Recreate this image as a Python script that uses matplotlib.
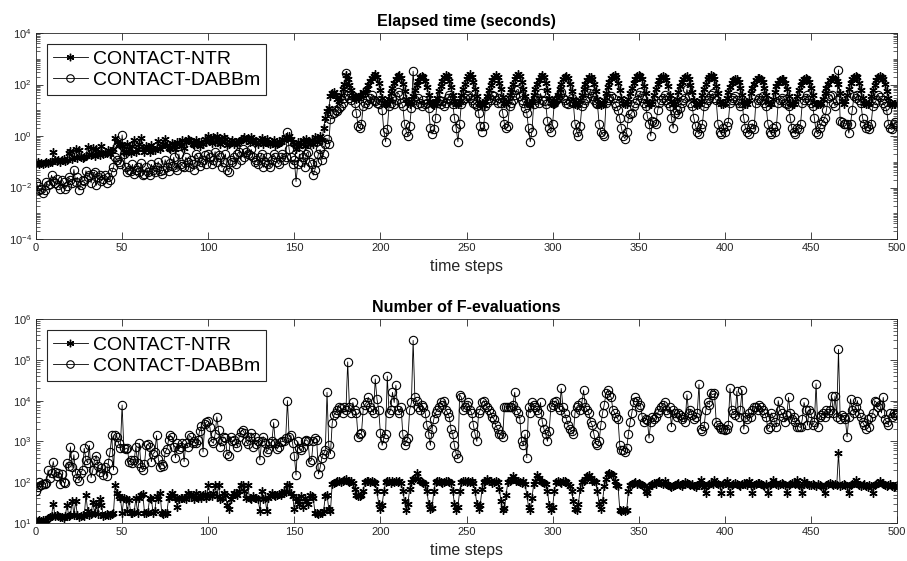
import numpy as np
import matplotlib
matplotlib.use("Agg")
import matplotlib.pyplot as plt
from matplotlib.ticker import LogLocator, NullFormatter, FixedLocator

plt.rcParams['font.family'] = ['Liberation Sans', 'DejaVu Sans']
plt.rcParams['mathtext.fontset'] = 'custom'
plt.rcParams['mathtext.rm'] = 'Liberation Sans'

# Elapsed time per time step (seconds)
time_ntr = [
    0.09, 0.10, 0.08, 0.09, 0.08, 0.09, 0.10, 0.09, 0.10, 0.10,
    0.24, 0.12, 0.11, 0.12, 0.10, 0.12, 0.13, 0.11, 0.12, 0.22,
    0.26, 0.13, 0.15, 0.30, 0.14, 0.28, 0.15, 0.14, 0.16, 0.17,
    0.38, 0.20, 0.18, 0.35, 0.17, 0.30, 0.22, 0.18, 0.40, 0.20,
    0.21, 0.22, 0.28, 0.20, 0.26, 0.32, 0.85, 0.60, 0.50, 0.45,
    0.40, 0.25, 0.22, 0.50, 0.30, 0.22, 0.40, 0.70, 0.25, 0.30,
    0.50, 0.85, 0.30, 0.25, 0.40, 0.35, 0.25, 0.45, 0.30, 0.28,
    0.35, 0.65, 0.30, 0.40, 0.50, 0.75, 0.45, 0.35, 0.30, 0.55,
    0.45, 0.30, 0.60, 0.50, 0.40, 0.70, 0.35, 0.60, 0.80, 0.70,
    0.60, 0.50, 0.45, 0.70, 0.55, 0.40, 0.60, 0.50, 0.75, 0.60,
    1.0, 0.70, 0.55, 0.90, 0.60, 1.0, 0.80, 0.50, 0.65, 0.90,
    0.80, 0.45, 0.50, 0.60, 0.70, 0.50, 0.60, 0.50, 0.65, 0.70,
    0.80, 0.90, 0.70, 0.85, 0.60, 0.90, 0.80, 0.55, 0.60, 0.50,
    0.70, 0.85, 0.50, 0.60, 0.75, 0.55, 0.50, 0.60, 0.70, 0.45,
    0.50, 0.55, 0.60, 0.80, 0.70, 0.90, 0.85, 1.0, 0.80, 0.60,
    0.50, 0.30, 0.60, 0.40, 0.50, 0.70, 0.40, 0.80, 0.60, 0.50,
    0.70, 0.50, 0.90, 0.60, 0.80, 1.0, 0.70, 2.0, 5.0, 9.0,
    12, 35, 45, 50, 40, 28, 22, 40, 65, 110,
    240, 170, 100, 60, 40, 32, 28, 30, 35, 40,
    50, 45, 70, 100, 140, 180, 220, 250, 200, 120,
    60, 30, 20, 17, 19, 28, 45, 75, 120, 170,
    210, 230, 180, 110, 55, 28, 19, 17, 22, 35,
    60, 95, 140, 190, 220, 200, 140, 80, 40, 22,
    18, 16, 20, 30, 55, 90, 140, 190, 240, 210,
    140, 80, 40, 22, 17, 18, 24, 40, 70, 110,
    160, 210, 250, 200, 130, 70, 35, 20, 17, 18,
    16, 22, 35, 60, 100, 150, 200, 240, 190, 120,
    65, 32, 20, 17, 22, 40, 70, 110, 160, 210,
    260, 210, 130, 70, 35, 20, 17, 16, 22, 38,
    65, 105, 150, 200, 230, 190, 120, 60, 30, 19,
    17, 18, 25, 40, 70, 110, 160, 190, 210, 180,
    110, 55, 28, 18, 16, 17, 25, 40, 70, 110,
    150, 190, 200, 170, 110, 55, 28, 18, 16, 18,
    26, 45, 80, 130, 180, 220, 240, 200, 120, 60,
    30, 19, 17, 18, 28, 45, 75, 120, 170, 210,
    230, 220, 160, 90, 45, 24, 18, 17, 22, 38,
    65, 105, 150, 190, 210, 200, 150, 85, 40, 22,
    17, 18, 28, 50, 85, 130, 170, 200, 210, 170,
    100, 50, 26, 18, 16, 17, 24, 40, 70, 110,
    160, 200, 230, 220, 160, 90, 45, 24, 18, 17,
    19, 30, 50, 80, 120, 150, 170, 165, 130, 75,
    38, 21, 17, 18, 26, 45, 75, 110, 150, 175,
    180, 170, 130, 75, 38, 21, 17, 18, 28, 50,
    85, 120, 150, 165, 160, 120, 70, 35, 20, 17,
    18, 22, 35, 60, 100, 140, 170, 180, 170, 130,
    75, 38, 21, 17, 18, 17, 19, 28, 45, 75,
    110, 150, 175, 180, 170, 140, 110, 45, 22, 17,
    22, 40, 70, 115, 160, 200, 220, 190, 120, 60,
    30, 19, 17, 18, 20, 35, 60, 100, 150, 190,
    210, 200, 170, 110, 55, 30, 20, 17, 18, 17,
    19,
]

time_dabbm = [
    0.017, 0.011, 0.008, 0.009, 0.006, 0.008, 0.016, 0.012, 0.014, 0.030,
    0.018, 0.015, 0.022, 0.012, 0.009, 0.020, 0.016, 0.009, 0.011, 0.025,
    0.020, 0.015, 0.050, 0.017, 0.025, 0.008, 0.012, 0.020, 0.018, 0.045,
    0.025, 0.030, 0.015, 0.035, 0.040, 0.012, 0.025, 0.030, 0.018, 0.022,
    0.030, 0.015, 0.025, 0.020, 0.040, 0.060, 0.150, 0.120, 0.100, 0.080,
    1.1, 0.200, 0.060, 0.040, 0.050, 0.045, 0.080, 0.035, 0.050, 0.060,
    0.040, 0.090, 0.030, 0.035, 0.060, 0.040, 0.030, 0.080, 0.050, 0.040,
    0.060, 0.100, 0.045, 0.035, 0.050, 0.120, 0.060, 0.045, 0.090, 0.070,
    0.150, 0.060, 0.050, 0.200, 0.080, 0.070, 0.060, 0.150, 0.100, 0.060,
    0.120, 0.080, 0.050, 0.200, 0.150, 0.070, 0.100, 0.120, 0.180, 0.080,
    0.200, 0.150, 0.080, 0.120, 0.250, 0.100, 0.180, 0.150, 0.060, 0.100,
    0.200, 0.050, 0.040, 0.120, 0.100, 0.150, 0.080, 0.200, 0.250, 0.120,
    0.300, 0.150, 0.250, 0.200, 0.180, 0.300, 0.150, 0.100, 0.120, 0.080,
    0.150, 0.200, 0.060, 0.100, 0.150, 0.080, 0.060, 0.120, 0.200, 0.150,
    0.100, 0.080, 0.150, 0.200, 0.120, 0.150, 1.4, 0.300, 0.150, 0.080,
    0.120, 0.017, 0.080, 0.200, 0.100, 0.150, 0.060, 0.200, 0.250, 0.100,
    0.080, 0.030, 0.050, 0.100, 0.200, 0.300, 0.120, 0.200, 0.500, 0.800,
    0.500, 4.5, 7.0, 8.0, 10, 9.0, 12, 15, 20, 30,
    280, 40, 30, 25, 35, 20, 8.0, 2.5, 2.0, 3.0,
    15, 20, 25, 18, 30, 40, 25, 22, 20, 18,
    25, 10, 1.5, 0.6, 1.8, 15, 20, 30, 18, 25,
    50, 40, 20, 15, 3.0, 1.5, 1.0, 2.5, 12, 330,
    25, 18, 30, 20, 15, 25, 18, 20, 12, 2.0,
    1.2, 1.8, 5.0, 20, 25, 18, 22, 15, 20, 30,
    40, 25, 18, 5.0, 2.0, 0.6, 3.0, 18, 25, 30,
    35, 40, 30, 25, 20, 18, 15, 8.0, 2.5, 1.5,
    2.5, 15, 20, 30, 25, 40, 35, 25, 20, 30,
    20, 8.0, 3.0, 2.0, 2.5, 15, 20, 25, 40, 60,
    65, 35, 25, 20, 12, 8.0, 2.0, 0.6, 1.5, 18,
    25, 30, 20, 45, 25, 22, 18, 4.0, 2.0, 1.5,
    3.0, 20, 25, 30, 40, 50, 30, 25, 20, 18,
    22, 30, 20, 3.0, 1.5, 1.0, 2.5, 15, 20, 25,
    30, 45, 60, 35, 25, 20, 18, 3.0, 1.5, 1.2,
    1.0, 20, 25, 30, 35, 30, 20, 15, 10, 5.0,
    2.0, 1.0, 0.8, 1.5, 5.0, 7.0, 8.0, 15, 20, 25,
    40, 50, 30, 20, 15, 6.0, 3.0, 1.0, 4.0, 3.5,
    3.0, 10, 20, 25, 30, 40, 25, 20, 15, 5.0,
    2.0, 8.0, 10, 7.0, 12, 20, 25, 30, 65, 35,
    20, 15, 5.0, 2.5, 1.5, 1.2, 2.0, 3.0, 15, 20,
    25, 30, 40, 45, 30, 25, 3.0, 1.5, 1.2, 2.0,
    1.5, 2.5, 3.5, 20, 25, 30, 35, 25, 20, 15,
    20, 5.0, 2.0, 1.5, 1.2, 2.0, 3.0, 1.8, 20, 25,
    30, 25, 35, 20, 15, 3.0, 1.5, 1.2, 2.0, 1.5,
    2.5, 20, 25, 30, 25, 20, 18, 15, 5.0, 2.0,
    1.5, 1.2, 2.0, 1.8, 3.0, 20, 25, 30, 40, 25,
    20, 15, 5.0, 1.5, 1.2, 2.0, 3.0, 4.0, 5.0, 10,
    30, 35, 40, 20, 15, 25, 370, 4.0, 3.5, 3.0,
    3.0, 3.0, 1.3, 3.0, 10, 37, 30, 40, 25, 20,
    5.0, 3.0, 2.0, 2.5, 1.8, 3.0, 15, 20, 25, 40,
    32, 25, 20, 15, 10, 3.0, 2.0, 1.8, 3.0, 3.5,
    2.5,
]

# Number of F-evaluations per time step
fevals_ntr = [
    11, 11, 12, 11, 12, 11, 12, 13, 14, 15,
    30, 15, 16, 15, 14, 14, 13, 15, 28, 15,
    16, 35, 16, 34, 16, 14, 15, 16, 15, 48,
    20, 16, 17, 32, 18, 30, 17, 38, 28, 15,
    16, 17, 16, 16, 17, 18, 85, 55, 45, 40,
    18, 40, 38, 20, 36, 18, 18, 19, 40, 18,
    42, 50, 52, 18, 18, 19, 40, 38, 18, 20,
    45, 38, 55, 18, 17, 18, 18, 40, 50, 55,
    45, 40, 25, 38, 40, 42, 40, 38, 55, 50,
    45, 50, 38, 55, 42, 50, 40, 48, 52, 40,
    85, 50, 45, 55, 85, 45, 85, 38, 40, 55,
    50, 28, 22, 38, 45, 55, 55, 50, 60, 85,
    85, 60, 40, 85, 40, 38, 45, 40, 42, 38,
    20, 60, 38, 42, 20, 40, 50, 55, 50, 45,
    48, 52, 50, 55, 60, 58, 85, 85, 55, 45,
    22, 40, 35, 30, 45, 25, 40, 35, 30, 50,
    45, 40, 18, 18, 17, 18, 18, 20, 45, 50,
    22, 20, 90, 95, 100, 110, 105, 100, 110, 115,
    120, 110, 100, 105, 95, 70, 48, 45, 46, 50,
    60, 100, 110, 105, 100, 110, 100, 95, 60, 30,
    22, 28, 60, 100, 110, 105, 95, 110, 100, 105,
    100, 110, 95, 60, 35, 21, 30, 70, 100, 120,
    130, 165, 120, 110, 100, 95, 90, 60, 30, 22,
    24, 60, 100, 110, 105, 100, 95, 100, 105, 110,
    100, 95, 60, 30, 21, 25, 60, 100, 105, 110,
    100, 105, 100, 110, 95, 60, 30, 22, 28, 70,
    100, 110, 120, 110, 105, 95, 100, 110, 100, 70,
    35, 21, 23, 50, 100, 110, 120, 140, 120, 110,
    105, 100, 95, 110, 90, 50, 25, 21, 40, 90,
    110, 150, 130, 110, 100, 95, 90, 60, 28, 21,
    25, 60, 100, 110, 100, 95, 105, 110, 100, 90,
    80, 60, 35, 22, 21, 30, 70, 100, 110, 120,
    140, 150, 130, 110, 105, 100, 60, 30, 22, 35,
    80, 120, 160, 165, 160, 150, 110, 85, 80, 21,
    20, 21, 20, 21, 60, 85, 90, 95, 100, 90,
    95, 90, 85, 80, 60, 55, 75, 85, 90, 95,
    90, 100, 110, 95, 90, 105, 90, 85, 80, 75,
    80, 85, 90, 95, 85, 80, 90, 100, 95, 90,
    85, 90, 80, 75, 85, 90, 115, 90, 75, 55,
    85, 90, 95, 90, 115, 95, 90, 85, 55, 90,
    95, 110, 85, 55, 85, 90, 95, 90, 85, 80,
    90, 95, 90, 85, 110, 85, 55, 85, 90, 95,
    95, 90, 85, 80, 90, 55, 85, 90, 115, 95,
    90, 85, 90, 95, 90, 85, 55, 85, 90, 95,
    95, 90, 115, 85, 80, 55, 110, 95, 90, 85,
    85, 90, 85, 80, 90, 85, 80, 75, 55, 85,
    90, 95, 90, 85, 90, 85, 520, 80, 85, 90,
    85, 80, 55, 85, 90, 95, 115, 95, 85, 80,
    85, 90, 80, 75, 85, 80, 55, 85, 90, 95,
    110, 95, 90, 85, 80, 85, 90, 80, 75, 80,
    85,
]

fevals_dabbm = [
    60, 75, 100, 85, 90, 90, 95, 200, 130, 170,
    320, 180, 140, 170, 90, 160, 100, 95, 300, 250,
    740, 230, 470, 170, 130, 110, 170, 200, 680, 350,
    300, 800, 130, 200, 350, 450, 250, 180, 220, 150,
    230, 140, 300, 560, 1400, 200, 1400, 1300, 900, 700,
    7800, 700, 650, 700, 320, 350, 300, 350, 750, 300,
    900, 230, 200, 280, 800, 850, 750, 320, 500, 550,
    1400, 380, 230, 280, 250, 550, 650, 1100, 1400, 1300,
    750, 400, 900, 650, 750, 900, 320, 900, 750, 1400,
    1300, 900, 1000, 900, 1100, 1800, 2400, 550, 2700, 3000,
    3100, 2200, 1000, 900, 1500, 4000, 1900, 750, 1000, 1300,
    1200, 480, 450, 1300, 1000, 1100, 900, 750, 1300, 1700,
    1900, 1600, 1000, 850, 1300, 1600, 750, 1300, 850, 1000,
    350, 1000, 1300, 900, 550, 650, 900, 1000, 2900, 900,
    650, 750, 950, 1000, 1000, 1200, 10000, 1300, 1400, 900,
    450, 150, 1000, 700, 600, 750, 1000, 1100, 1000, 320,
    350, 1000, 1200, 1100, 160, 230, 400, 500, 600, 16000,
    800, 500, 2800, 4500, 5000, 6000, 7000, 6500, 5000, 7000,
    6000, 89000, 7000, 5000, 9000, 6000, 5000, 1300, 1500, 1600,
    6000, 8000, 9000, 12000, 7000, 6000, 5000, 34000, 11000, 6000,
    1600, 800, 1200, 1500, 40000, 5000, 6000, 16000, 9000, 24000,
    6000, 5000, 7000, 1500, 800, 1000, 1200, 6000, 9000, 300000,
    12000, 10000, 7000, 6000, 8000, 7000, 5000, 2500, 1500, 800,
    2000, 3500, 5000, 6000, 7000, 9000, 8000, 10000, 6000, 5000,
    4000, 2000, 1500, 800, 500, 400, 14000, 12000, 6000, 7000,
    8000, 9000, 6000, 5000, 2500, 1500, 1000, 5000, 6000, 9000,
    10000, 8000, 7000, 6000, 5000, 4000, 3500, 2500, 2000, 1500,
    1500, 1300, 7000, 7000, 7000, 7000, 7000, 8000, 16000, 6000,
    5000, 3500, 1000, 800, 1500, 400, 7000, 5000, 9000, 8000,
    7000, 6000, 5000, 9000, 3000, 2000, 1500, 1000, 1800, 7000,
    8000, 9000, 10000, 7000, 6000, 20000, 7000, 5000, 3500, 2500,
    2000, 1800, 1500, 5000, 7000, 8000, 6000, 9000, 18000, 7000,
    6000, 5000, 3000, 2500, 1500, 900, 800, 1000, 2500, 5000,
    8000, 15000, 18000, 14000, 12000, 6000, 5000, 4000, 3500, 800,
    600, 600, 550, 700, 1500, 3000, 5000, 9000, 12000, 10000,
    7000, 8000, 4000, 3000, 3500, 3400, 1200, 3000, 4000, 3500,
    4000, 5000, 6000, 7000, 8000, 9000, 6000, 5000, 7000, 2300,
    6000, 5000, 4000, 5000, 4500, 3500, 4000, 3000, 14000, 5000,
    6000, 4500, 3500, 4000, 5000, 25000, 2000, 1800, 2400, 6000,
    9000, 8000, 15000, 14000, 15000, 3000, 2500, 2200, 2000, 2000,
    1900, 2000, 2500, 20000, 6000, 5000, 4500, 17000, 4000, 6000,
    18000, 2000, 4000, 3500, 5000, 4000, 6000, 7000, 7000, 6000,
    8000, 7000, 6000, 5000, 4000, 2000, 2200, 5000, 4000, 3000,
    2300, 10000, 6000, 5000, 4000, 3000, 4500, 12000, 5000, 3500,
    4000, 3000, 2300, 2300, 2200, 3500, 9000, 6000, 2500, 6000,
    5000, 2500, 3000, 26000, 2200, 4000, 4500, 5000, 4000, 6000,
    5000, 6000, 13000, 5000, 13000, 4000, 180000, 3500, 4500, 4000,
    3500, 1300, 4000, 11000, 6000, 5000, 7000, 10000, 5000, 4000,
    3000, 2500, 2000, 3500, 2200, 4000, 5000, 10000, 9000, 7000,
    8000, 5000, 12000, 3500, 3000, 2500, 5000, 4000, 5000, 4500,
    5000,
]

series_labels = ['CONTACT-NTR', 'CONTACT-DABBm']
x_ticks = [0, 50, 100, 150, 200, 250, 300, 350, 400, 450, 500]

AXIS_GRAY = '#262626'
asterisk = (6, 2, 0)

fig = plt.figure(figsize=(9.07, 5.61), dpi=100)
ax_top = fig.add_axes([0.0397, 0.574, 0.9493, 0.367])
ax_bot = fig.add_axes([0.0397, 0.0677, 0.9493, 0.3636])


def draw_panel(ax, ntr, dab, title, ylim, major):
    ax.plot(np.arange(len(ntr)), ntr, color='black', lw=0.6,
            marker=asterisk, ms=6, mew=1.0, mfc='black', mec='black',
            label=series_labels[0])
    ax.plot(np.arange(len(dab)), dab, color='black', lw=0.6,
            marker='o', ms=6, mew=0.8, mfc='none', mec='black',
            label=series_labels[1])
    ax.set_yscale('log')
    ax.set_xlim(0, 500)
    ax.set_ylim(*ylim)
    ax.set_xticks(x_ticks)
    ax.yaxis.set_major_locator(FixedLocator(major))
    ax.yaxis.set_minor_locator(LogLocator(base=10, subs=np.arange(1, 10),
                                          numticks=30))
    ax.yaxis.set_minor_formatter(NullFormatter())
    ax.tick_params(which='both', direction='in', top=True, right=True,
                   colors=AXIS_GRAY, labelsize=8, pad=3)
    ax.tick_params(which='major', length=5, width=0.6)
    ax.tick_params(which='minor', length=3, width=0.5)
    for sp in ax.spines.values():
        sp.set_color(AXIS_GRAY)
        sp.set_linewidth(0.6)
    ax.set_title(title, fontsize=11.5, fontweight='bold', pad=5)
    ax.set_xlabel('time steps', fontsize=11.5, color=AXIS_GRAY, labelpad=4)
    leg = ax.legend(loc='upper left', fontsize=14, frameon=True,
                    fancybox=False, edgecolor=AXIS_GRAY, framealpha=1,
                    borderaxespad=0.55, handlelength=1.8, handletextpad=0.25,
                    labelspacing=0.2, borderpad=0.32, markerscale=0.9)
    leg.get_frame().set_linewidth(0.8)


draw_panel(ax_top, time_ntr, time_dabbm, 'Elapsed time (seconds)',
           (1e-4, 1e4), [1e-4, 1e-2, 1e0, 1e2, 1e4])
draw_panel(ax_bot, fevals_ntr, fevals_dabbm, 'Number of F-evaluations',
           (1e1, 1e6), [1e1, 1e2, 1e3, 1e4, 1e5, 1e6])

fig.savefig('out.png', dpi=100)
